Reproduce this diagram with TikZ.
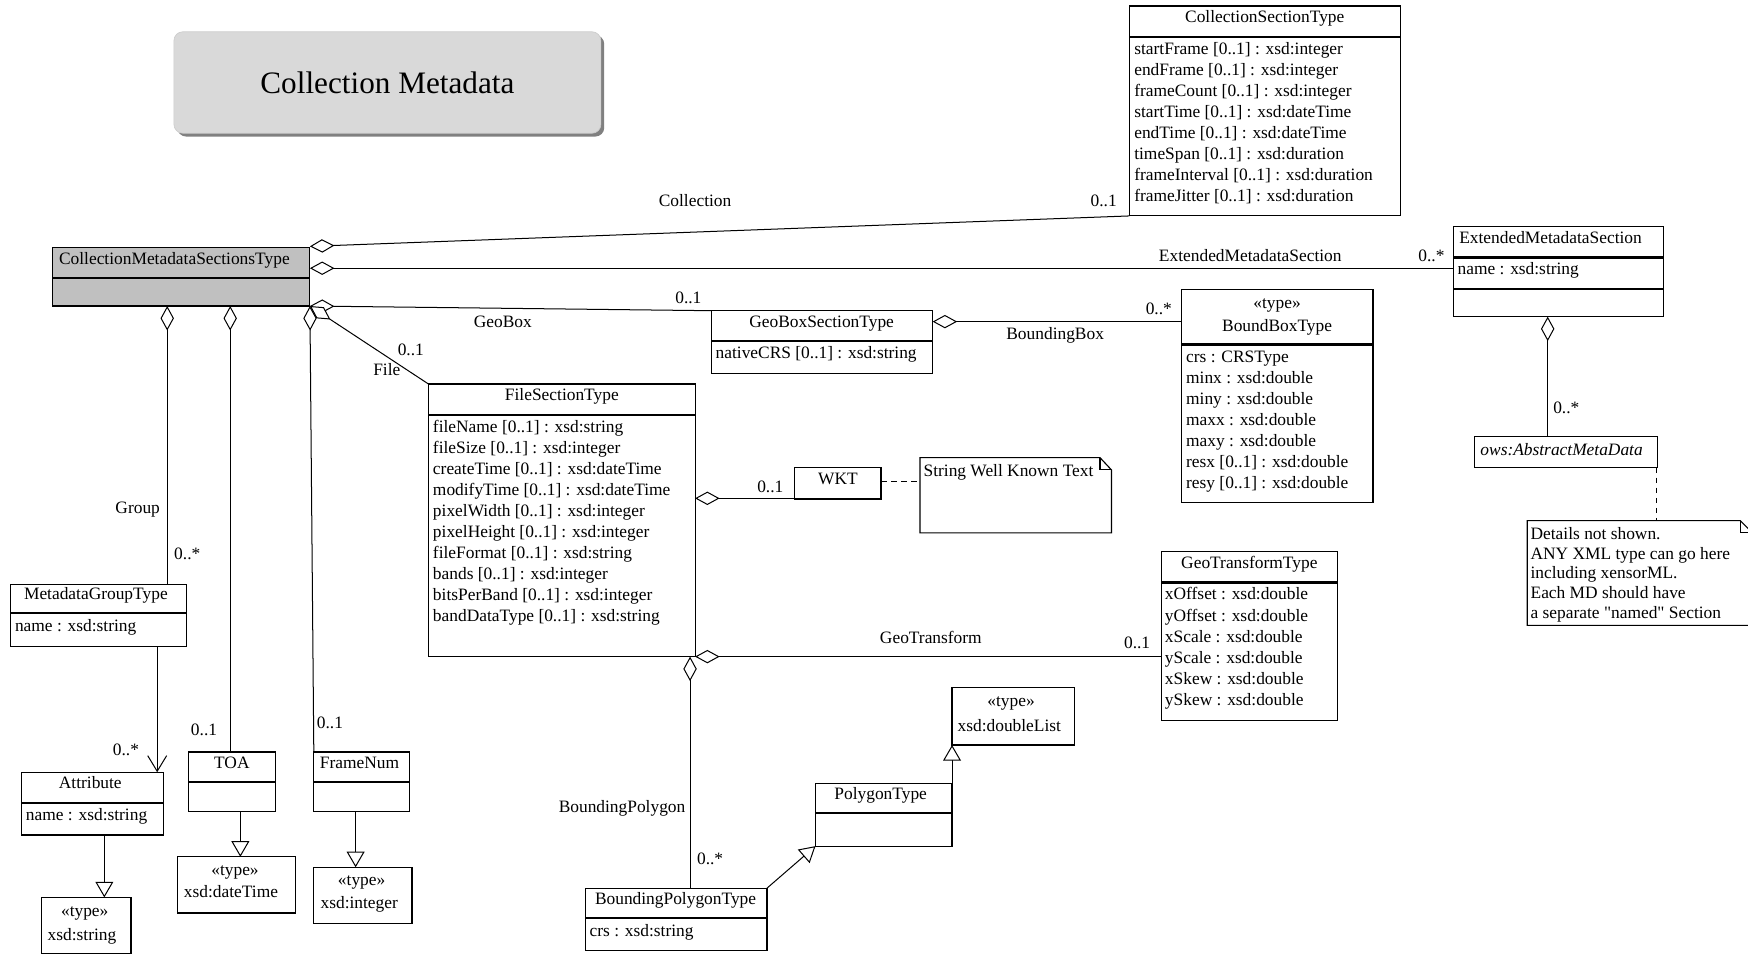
\documentclass[tikz,border=0pt]{standalone}
\usepackage{fontspec}
\setmainfont{Liberation Serif}[Ligatures=TeXOff]
\usetikzlibrary{arrows.meta,shadows,calc}

\definecolor{cmsgray}{HTML}{C0C0C0}
\definecolor{titlegray}{HTML}{D9D9D9}

\tikzset{
  every node/.style={inner sep=0pt, outer sep=0pt},
  lbl/.style={font=\fontsize{15.6}{18.8}\selectfont, text height=11pt, text depth=2pt},
  cls/.style={draw, line width=1pt, fill=white, anchor=north west},
  sep/.style={line width=2pt},
  conn/.style={line width=0.9pt},
  aggr/.style={conn, arrows={Diamond[fill=white,length=22pt,width=12pt]-}},
  gen/.style={conn, arrows={-Triangle[fill=white,length=14pt,width=16pt]}},
  nav/.style={conn, arrows={-Straight Barb[length=14pt,width=17pt]}},
  dep/.style={conn, dash pattern=on 5pt off 4pt},
  notebox/.style={draw, line width=1pt, fill=white},
  titlebox/.style={rounded corners=8pt, fill=titlegray, draw=black!20, line width=0.6pt,
    font=\fontsize{28}{34}\selectfont,
    drop shadow={shadow xshift=3pt, shadow yshift=-3pt, fill=black!50, opacity=1}},
}

% class rectangle: name, left, top, width, height
\newcommand\umlbox[5]{\node[cls, minimum width=#4pt, minimum height=#5pt] (#1) at (#2,#3) {};}
% compartment separator of a class at height y
\newcommand\hsep[2]{\draw[sep] (#1.west |- 0,#2) -- (#1.east |- 0,#2);}
% list of attributes: prefix, left, first line, line step, items
\newcommand\attrlist[5]{\foreach \t [count=\i] in {#5} {\node[lbl, anchor=west] (#1-\i) at ({#2},{#3+(\i-1)*#4}) {\t};}}

\begin{document}
\begin{tikzpicture}[x=1pt,y=-1pt]
\useasboundingbox (0,0) rectangle (1568,857);
\clip (0,0) rectangle (1568,857);

% heading
\node[titlebox, minimum width=383pt, minimum height=91pt] (title) at (347.5,74) {Collection Metadata};

% root class
\node[cls, fill=cmsgray, minimum width=231pt, minimum height=52.5pt] (cmst) at (47,222) {};
\hsep{cmst}{249.5}
\node[lbl, anchor=west] (cmst-t) at (53,233) {CollectionMetadataSectionsType};

% CollectionSectionType
\umlbox{cst}{1013}{5.4}{243}{188.3}
\hsep{cst}{33}
\node[lbl] (cst-t) at (1134.5,15.5) {CollectionSectionType};
\attrlist{cst}{1017.5}{44.8}{18.8}{{startFrame [0..1] : xsd:integer},{endFrame [0..1] : xsd:integer},{frameCount [0..1] : xsd:integer},{startTime [0..1] : xsd:dateTime},{endTime [0..1] : xsd:dateTime},{timeSpan [0..1] : xsd:duration},{frameInterval [0..1] : xsd:duration},{frameJitter [0..1] : xsd:duration}}

% ExtendedMetadataSection
\umlbox{ems}{1303.5}{203}{188.3}{81}
\hsep{ems}{231}
\hsep{ems}{259}
\node[lbl, anchor=west] (ems-t) at (1309,213.6) {ExtendedMetadataSection};
\node[lbl, anchor=west] (ems-1) at (1307.5,241.6) {name : xsd:string};

% GeoBoxSectionType
\umlbox{gbst}{638}{278.7}{198.6}{56}
\hsep{gbst}{306}
\node[lbl] (gbst-t) at (737,289.5) {GeoBoxSectionType};
\node[lbl, anchor=west] (gbst-1) at (642,316.8) {nativeCRS [0..1] : xsd:string};

% BoundBoxType
\umlbox{bbt}{1059.6}{259.6}{172}{191.4}
\hsep{bbt}{309}
\node[lbl] (bbt-s) at (1145.6,272) {«type»};
\node[lbl] (bbt-t) at (1145.6,293) {BoundBoxType};
\attrlist{bbt}{1064}{320.3}{18.88}{{crs : CRSType},{minx : xsd:double},{miny : xsd:double},{maxx : xsd:double},{maxy : xsd:double},{resx [0..1] : xsd:double},{resy [0..1] : xsd:double}}

% FileSectionType
\umlbox{fst}{384.4}{344.5}{239.1}{244.5}
\hsep{fst}{372.3}
\node[lbl] (fst-t) at (504,355) {FileSectionType};
\attrlist{fst}{388.4}{383.6}{18.84}{{fileName [0..1] : xsd:string},{fileSize [0..1] : xsd:integer},{createTime [0..1] : xsd:dateTime},{modifyTime [0..1] : xsd:dateTime},{pixelWidth [0..1] : xsd:integer},{pixelHeight [0..1] : xsd:integer},{fileFormat [0..1] : xsd:string},{bands [0..1] : xsd:integer},{bitsPerBand [0..1] : xsd:integer},{bandDataType [0..1] : xsd:string}}

% WKT and its note
\umlbox{wkt}{713}{419.5}{77.3}{28.1}
\node[lbl] (wkt-t) at (751.6,429.7) {WKT};
\node[minimum width=171.7pt, minimum height=67.5pt, anchor=north west] (wktnote) at (825.3,410.5) {};
\draw[notebox] (wktnote.north west) -- ([xshift=-10.3pt]wktnote.north east) -- ([yshift=-11pt]wktnote.north east) -- (wktnote.south east) -- (wktnote.south west) -- cycle;
\draw[line width=1pt] ([xshift=-10.3pt]wktnote.north east) -- ++(0,11) -- ++(10.3,0);
\node[lbl, anchor=west] (wktnote-t) at (828.5,423) {String Well Known Text};

% GeoTransformType
\umlbox{gtt}{1041.5}{495}{158.5}{151}
\hsep{gtt}{522.5}
\node[lbl] (gtt-t) at (1120.7,505.5) {GeoTransformType};
\attrlist{gtt}{1045}{533.7}{18.96}{{xOffset : xsd:double},{yOffset : xsd:double},{xScale : xsd:double},{yScale : xsd:double},{xSkew : xsd:double},{ySkew : xsd:double}}

% ows:AbstractMetaData and its note
\umlbox{ows}{1322.5}{391.7}{164.2}{27.8}
\node[lbl, anchor=west, font=\fontsize{15.6}{18.8}\selectfont\itshape] (ows-t) at (1328,404) {ows:AbstractMetaData};
\node[minimum width=202pt, minimum height=94pt, anchor=north west] (mdnote) at (1370,467) {};
\draw[notebox] (mdnote.north west) -- ([xshift=-11pt]mdnote.north east) -- ([yshift=-11pt]mdnote.north east) -- (mdnote.south east) -- (mdnote.south west) -- cycle;
\draw[line width=1pt] ([xshift=-11pt]mdnote.north east) -- ++(0,11) -- ++(11,0);
\attrlist{mdnote}{1373}{479.5}{17.6}{{Details not shown.},{ANY XML type can go here},{including xensorML.},{Each MD should have},{a separate "named" Section}}

% MetadataGroupType and Attribute
\umlbox{mgt}{9.6}{524}{157.4}{56}
\hsep{mgt}{550}
\node[lbl] (mgt-t) at (86,533.7) {MetadataGroupType};
\node[lbl, anchor=west] (mgt-1) at (13.5,562) {name : xsd:string};

\umlbox{attr}{19}{692.7}{128}{56.3}
\hsep{attr}{720}
\node[lbl] (attr-t) at (81,703) {Attribute};
\node[lbl, anchor=west] (attr-1) at (23.3,731.7) {name : xsd:string};

\umlbox{strtype}{37.5}{805}{80}{50.5}
\node[lbl] (strtype-s) at (76,817.8) {«type»};
\node[lbl, anchor=west] (strtype-t) at (42.8,839.3) {xsd:string};

% TOA and FrameNum
\umlbox{toa}{169}{674.6}{78}{53}
\hsep{toa}{701.5}
\node[lbl] (toa-t) at (208,684.6) {TOA};

\umlbox{dttype}{159.5}{768.6}{105.3}{50.4}
\node[lbl] (dttype-s) at (210.8,780.4) {«type»};
\node[lbl, anchor=west] (dttype-t) at (165,801) {xsd:dateTime};

\umlbox{fnum}{281.5}{674.6}{85.5}{53}
\hsep{fnum}{701.5}
\node[lbl] (fnum-t) at (322.5,684.6) {FrameNum};

\umlbox{intype}{281.5}{778}{88.1}{50}
\node[lbl] (intype-s) at (324.4,790) {«type»};
\node[lbl, anchor=west] (intype-t) at (287.6,810) {xsd:integer};

% polygons
\umlbox{dbltype}{854}{617}{109.8}{51.3}
\node[lbl] (dbltype-s) at (907,629.4) {«type»};
\node[lbl, anchor=west] (dbltype-t) at (859,651.3) {xsd:doubleList};

\umlbox{poly}{731.5}{702.5}{122.5}{56.5}
\hsep{poly}{729.5}
\node[lbl] (poly-t) at (790,712.3) {PolygonType};

\umlbox{bpt}{525.5}{796.7}{162.5}{56.1}
\hsep{bpt}{823.5}
\node[lbl] (bpt-t) at (606,806.5) {BoundingPolygonType};
\node[lbl, anchor=west] (bpt-1) at (529,835.7) {crs : xsd:string};

% associations
\draw[aggr] (cmst.north east |- 0,221) -- (cst.south west);
\draw[aggr] (cmst.east |- 0,240.6) -- (ems.west |- 0,240.6);
\draw[aggr] (cmst.south east) -- (gbst.north west);
\draw[aggr] (cmst.south east) -- (fnum.north west);
\draw[aggr] (cmst.south east) -- (fst.north west);
\draw[aggr] (cmst.south -| 150,0) -- (mgt.north -| 150,0);
\draw[aggr] (cmst.south -| 206.5,0) -- (toa.north -| 206.5,0);
\draw[nav] (mgt.south -| 141,0) -- (attr.north -| 141,0);
\draw[aggr] (gbst.east |- 0,288.5) -- (bbt.west |- 0,288.5);
\draw[aggr] (fst.east |- 0,447) -- (wkt.west |- 0,447);
\draw[dep] (wkt.east |- 0,431.5) -- (wktnote.west |- 0,431.5);
\draw[aggr] (fst.south east) -- (gtt.west |- fst.south east);
\draw[aggr] (fst.south -| 619,0) -- (bpt.north -| 619,0);
\draw[aggr] (ems.south -| 1388.3,0) -- (ows.north -| 1388.3,0);
\draw[dep] (ows.south -| 1485.5,0) -- (mdnote.north -| 1485.5,0);

% generalisations
\draw[gen] (attr.south -| 93.6,0) -- (strtype.north -| 93.6,0);
\draw[gen] (toa.south -| 215.6,0) -- (dttype.north -| 215.6,0);
\draw[gen] (fnum.south -| 319,0) -- (intype.north -| 319,0);
\draw[gen] (bpt.north east) -- (poly.south west);
\draw[gen] (poly.north east) -- (poly.north east |- dbltype.south);

% role names and multiplicities
\node[lbl] (l-coll) at (623.5,181) {Collection};
\node[lbl] (m-coll) at (990,181) {0..1};
\node[lbl] (l-ems) at (1121.5,230) {ExtendedMetadataSection};
\node[lbl] (m-ems) at (1284,230) {0..*};
\node[lbl] (l-geobox) at (451,289.5) {GeoBox};
\node[lbl] (m-geobox) at (617.5,268) {0..1};
\node[lbl] (l-file) at (347,332) {File};
\node[lbl] (m-file) at (368.5,314) {0..1};
\node[lbl] (l-group) at (123.5,456) {Group};
\node[lbl] (m-group) at (168,497) {0..*};
\node[lbl] (m-toa) at (183,655) {0..1};
\node[lbl] (m-fnum) at (296,649) {0..1};
\node[lbl] (m-attr) at (113,673) {0..*};
\node[lbl] (l-bbox) at (946.5,299.6) {BoundingBox};
\node[lbl] (m-bbox) at (1039.5,278) {0..*};
\node[lbl] (m-wkt) at (691,437) {0..1};
\node[lbl] (l-gtr) at (835,573) {GeoTransform};
\node[lbl] (m-gtr) at (1020,577) {0..1};
\node[lbl] (l-bpoly) at (558,724) {BoundingPolygon};
\node[lbl] (m-bpoly) at (637,771.4) {0..*};
\node[lbl] (m-ows) at (1405,366) {0..*};
\end{tikzpicture}
\end{document}
